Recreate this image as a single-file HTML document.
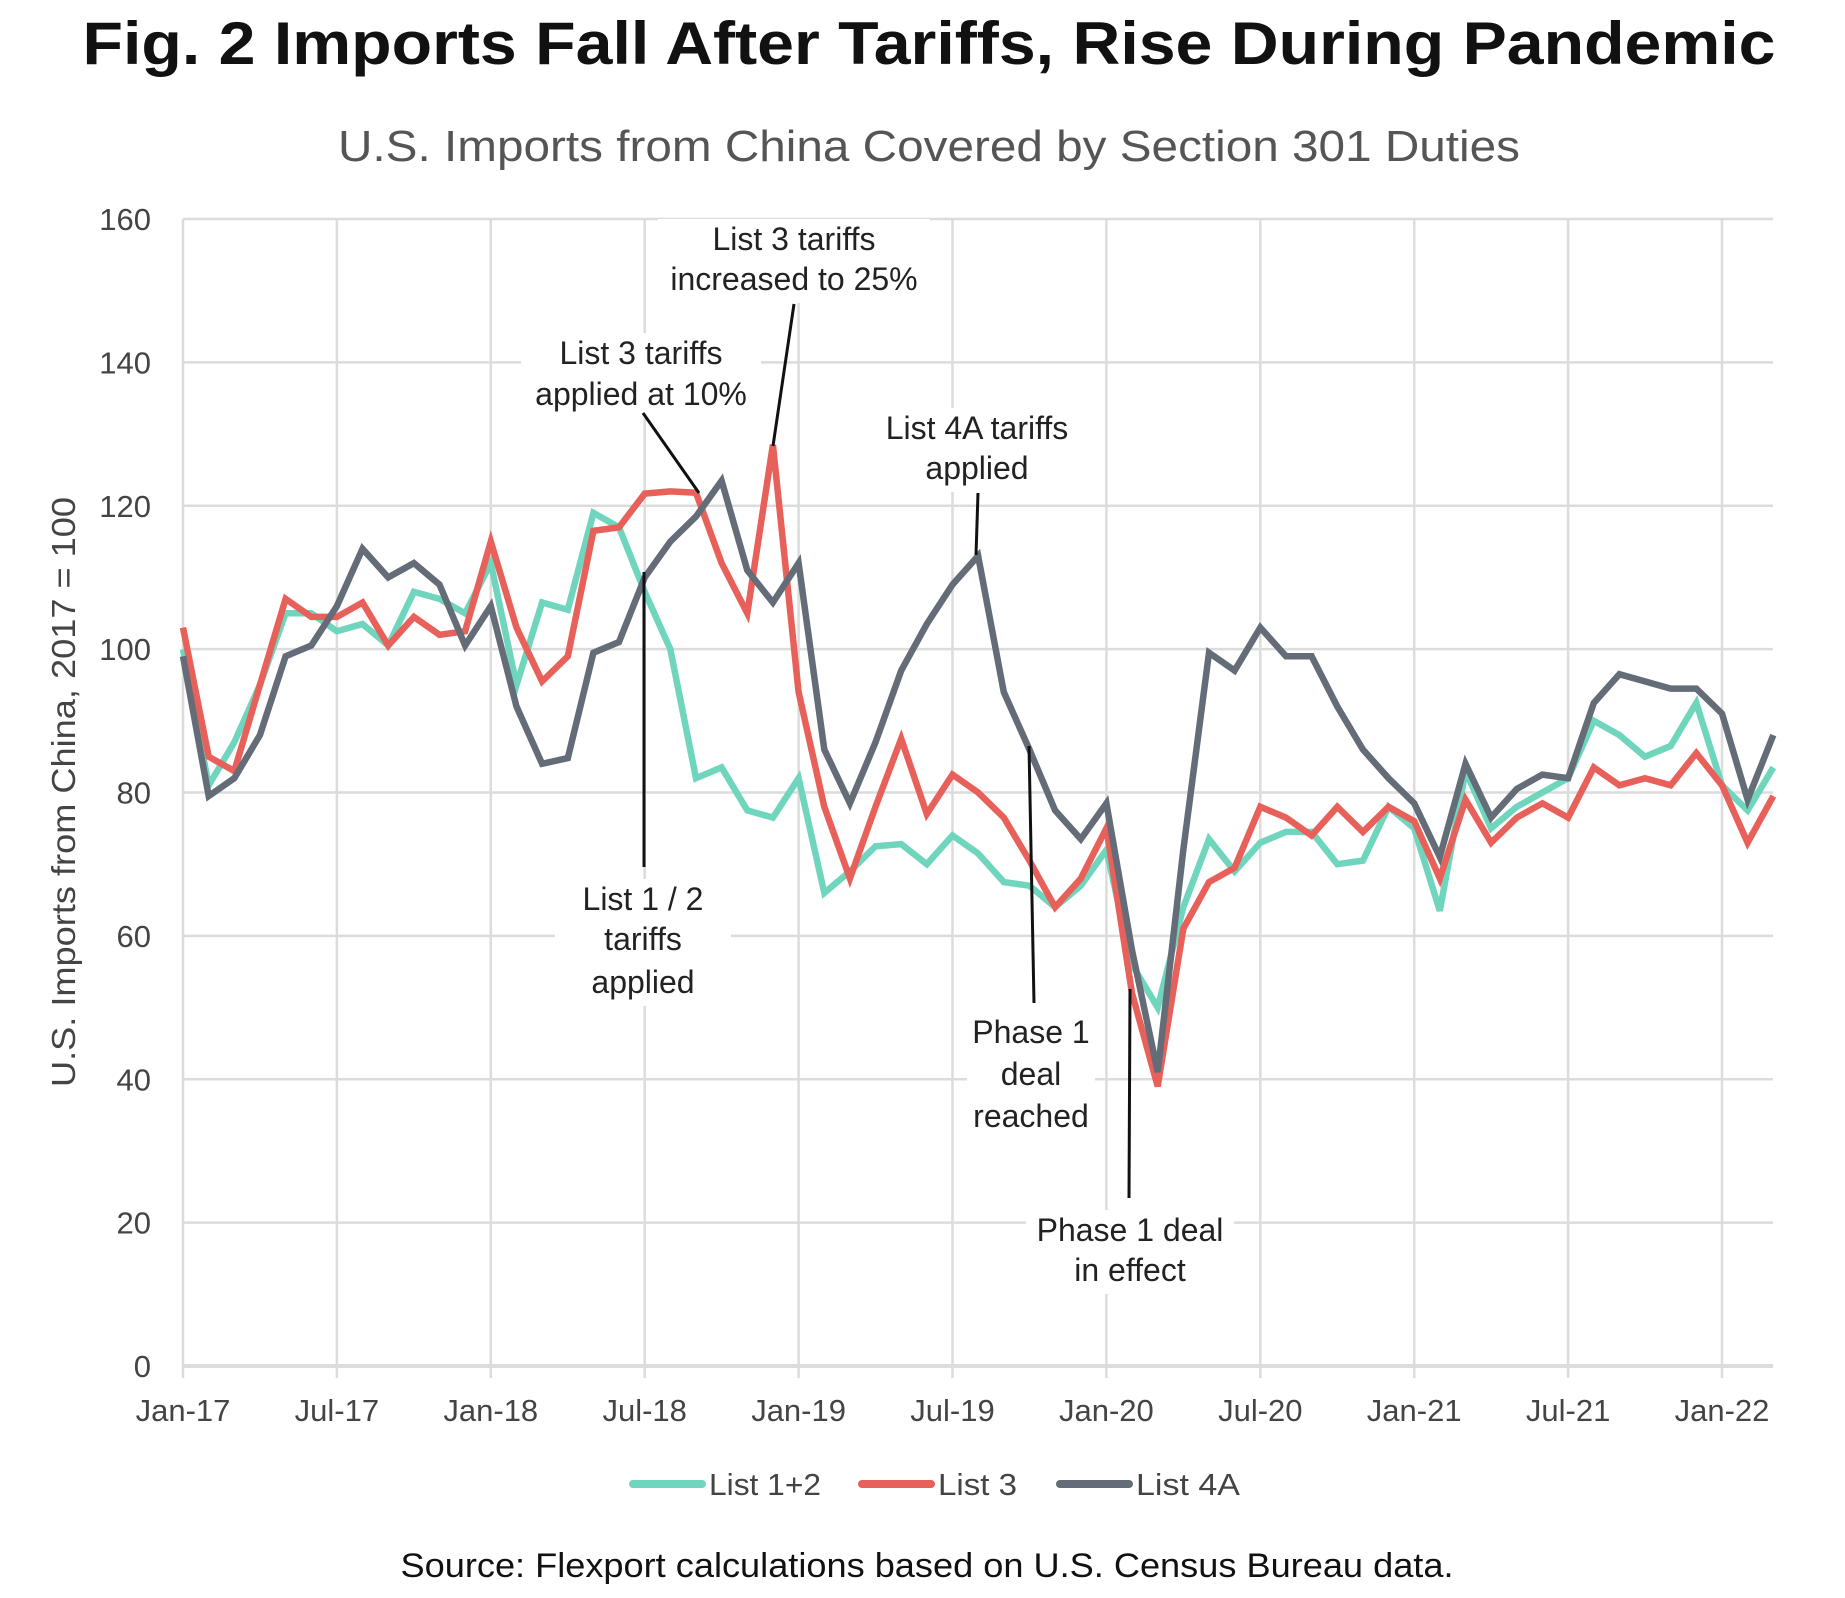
<!DOCTYPE html>
<html><head><meta charset="utf-8">
<style>
html,body{margin:0;padding:0;background:#fff;}
svg{display:block;font-family:"Liberation Sans",sans-serif;}
</style></head>
<body>
<svg id="chart" width="1845" height="1598" viewBox="0 0 1845 1598">
<text x="929" y="64" text-anchor="middle" font-size="60" font-weight="bold" fill="#111" textLength="1693" lengthAdjust="spacingAndGlyphs">Fig. 2 Imports Fall After Tariffs, Rise During Pandemic</text>
<text x="929" y="161" text-anchor="middle" font-size="44" fill="#555" textLength="1182" lengthAdjust="spacingAndGlyphs">U.S. Imports from China Covered by Section 301 Duties</text>
<g id="grid"></g>
<g id="axes"></g>
<g id="series"></g>
<g id="annots"></g>
<text transform="translate(75,792) rotate(-90)" text-anchor="middle" font-size="33" fill="#444" textLength="590" lengthAdjust="spacingAndGlyphs">U.S. Imports from China, 2017 = 100</text>
<g>
<g><line x1="633" y1="1484" x2="702" y2="1484" stroke="#6fd6bd" stroke-width="8" stroke-linecap="round"/><text x="709" y="1495" font-size="31" fill="#444" textLength="112" lengthAdjust="spacingAndGlyphs">List 1+2</text></g>
<g><line x1="862" y1="1484" x2="931" y2="1484" stroke="#e8605a" stroke-width="8" stroke-linecap="round"/><text x="938" y="1495" font-size="31" fill="#444" textLength="79" lengthAdjust="spacingAndGlyphs">List 3</text></g>
<g><line x1="1060" y1="1484" x2="1129" y2="1484" stroke="#646c78" stroke-width="8" stroke-linecap="round"/><text x="1136" y="1495" font-size="31" fill="#444" textLength="104" lengthAdjust="spacingAndGlyphs">List 4A</text></g>
</g>
<text x="927" y="1577" text-anchor="middle" font-size="34" fill="#111" textLength="1053" lengthAdjust="spacingAndGlyphs">Source: Flexport calculations based on U.S. Census Bureau data.</text>
</svg>
<script>
const xTickLabels=["Jan-17","Jul-17","Jan-18","Jul-18","Jan-19","Jul-19","Jan-20","Jul-20","Jan-21","Jul-21","Jan-22"];
const yTicks=[0,20,40,60,80,100,120,140,160];
const list12=[100,81,87,95,105,105,102.5,103.5,100.5,108,107,105,112,95,106.5,105.5,119,117,108,100,82,83.5,77.5,76.5,82,66,69,72.5,72.8,70,74,71.5,67.5,67,64,67,72,56,50,64,73.5,69,73,74.5,74.5,70,70.5,78,75,63.5,83,75,78,80,82,90,88,85,86.5,92.5,81,77.5,83.5];
const list3=[103,85,83,95,107,104.5,104.5,106.5,100.5,104.5,102,102.5,115,103,95.5,99,116.5,117,121.7,122,121.8,112,105,128.5,94,78,68,78,87.5,77,82.5,80,76.5,70.5,64,68,75,52,39,61,67.5,69.5,78,76.5,74,78,74.5,78,76,68,79,73,76.5,78.5,76.5,83.5,81,82,81,85.5,81,73,79.5];
const list4a=[99,79.5,82,88,99,100.5,106,114,110,112,109,100.5,106,92,84,84.8,99.5,101,110,115,118.5,123.5,111,106.5,112,86,78.5,87,97,103.5,109,113,94,86,77.5,73.5,78.5,58,41,72,99.5,97,103,99,99,92,86,82,78.5,71,84,76.5,80.5,82.5,82,92.5,96.5,95.5,94.5,94.5,91,79,88];
const NS="http://www.w3.org/2000/svg";
const X0=183,X1=1773,Y0=1366,YT=219,MW=25.65;
function xs(i){return X0+i*MW;}
function ys(v){return Y0-(v/160)*(Y0-YT);}
function mk(tag,attrs,parent){const e=document.createElementNS(NS,tag);for(const k in attrs)e.setAttribute(k,attrs[k]);parent.appendChild(e);return e;}
const grid=document.getElementById('grid'),axes=document.getElementById('axes'),series=document.getElementById('series'),ann=document.getElementById('annots');
yTicks.forEach(v=>{
 const l=mk('line',{x1:X0,x2:X1,y1:ys(v),y2:ys(v),stroke:'#dcdcdc','stroke-width':v===0?4:2.5},grid);
 
 
 const t=mk('text',{x:151,y:ys(v)+11,'text-anchor':'end','font-size':31,fill:'#444'},axes);
 t.textContent=v;
 
 
});
xTickLabels.forEach((s,k)=>{
 const x=xs(k*6);
 const l=mk('line',{x1:x,x2:x,y1:YT,y2:Y0+12,stroke:'#dcdcdc','stroke-width':2.5},grid);
 
 
 const t=mk('text',{x:x,y:1421,'text-anchor':'middle','font-size':31,fill:'#444'},axes);
 t.textContent=s;
 
 
});
function drawSeries(arr,color,name){
 const d=arr.map((v,i)=>(i?'L':'M')+xs(i).toFixed(1)+','+ys(v).toFixed(1)).join(' ');
 const p=mk('path',{d:d,fill:'none',stroke:color,'stroke-width':6.5,'stroke-linejoin':'miter'},series);
 
 
}
drawSeries(list12,'#6fd6bd','line-list-1-2');
drawSeries(list3,'#e8605a','line-list-3');
drawSeries(list4a,'#646c78','line-list-4a');
const notes=[
 {n:'annotation-list3-25',lines:["List 3 tariffs","increased to 25%"],cx:794,y:[250,290],l:[794,304,773,446]},
 {n:'annotation-list3-10',lines:["List 3 tariffs","applied at 10%"],cx:641,y:[364,405],l:[643,413,699,493]},
 {n:'annotation-list4a',lines:["List 4A tariffs","applied"],cx:977,y:[439,479],l:[978,493,976,555]},
 {n:'annotation-list12',lines:["List 1 / 2","tariffs","applied"],cx:643,y:[910,950,993],l:[644,572,644,867]},
 {n:'annotation-phase1-reached',lines:["Phase 1","deal","reached"],cx:1031,y:[1043,1085,1127],l:[1029,746,1034,1003]},
 {n:'annotation-phase1-effect',lines:["Phase 1 deal","in effect"],cx:1130,y:[1241,1281],l:[1130,989,1129,1198]}
];
notes.forEach(o=>{
 const g=mk('g',{},ann);
 
 
 const w=Math.max(...o.lines.map(s=>s.length))*16+16;
 mk('rect',{x:o.cx-w/2,y:o.y[0]-31,width:w,height:o.y[o.y.length-1]-o.y[0]+44,fill:'#fff'},g);
 mk('line',{x1:o.l[0],y1:o.l[1],x2:o.l[2],y2:o.l[3],stroke:'#111','stroke-width':3},g);
 o.lines.forEach((s,i)=>{const t=mk('text',{x:o.cx,y:o.y[i],'text-anchor':'middle','font-size':32,fill:'#222'},g);t.textContent=s;});
});
</script>
</body></html>
